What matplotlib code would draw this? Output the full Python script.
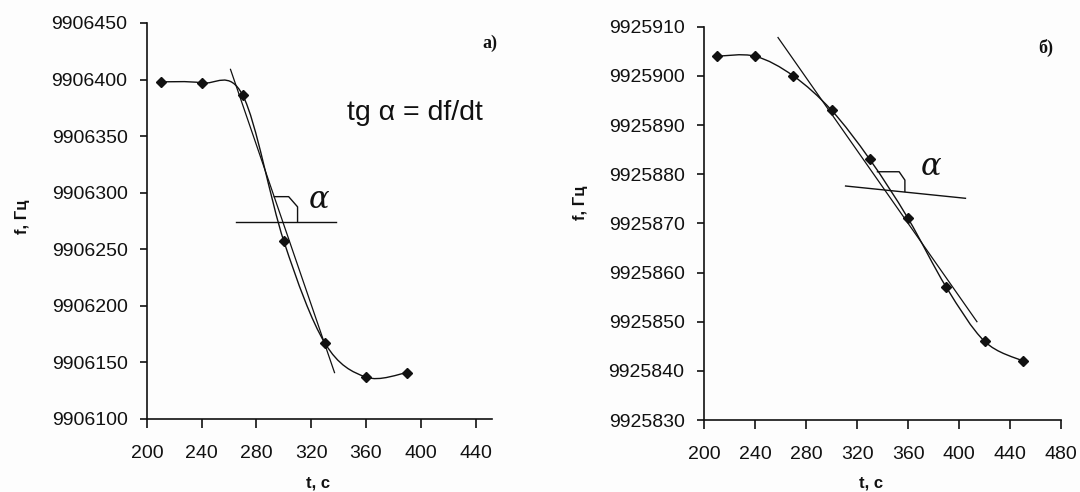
import numpy as np
import matplotlib
matplotlib.use("Agg")
import matplotlib.pyplot as plt
from matplotlib.path import Path
from matplotlib.patches import PathPatch

plt.rcParams['font.family'] = ['Liberation Sans', 'DejaVu Sans']

# ---- panel a) ----
t_a = [210, 240, 270, 300, 330, 360, 390]
f_a = [9906398, 9906397, 9906386, 9906257, 9906167, 9906137, 9906141]
tangent_a_t = [261, 337]
tangent_a_f = [9906409, 9906141]
horiz_a_t = [265, 338]
horiz_a_f = [9906274, 9906274]
yticks_a = [9906100, 9906150, 9906200, 9906250, 9906300, 9906350, 9906400, 9906450]
xticks_a = [200, 240, 280, 320, 360, 400, 440]

# ---- panel б) ----
t_b = [210, 240, 270, 300, 330, 360, 390, 420, 450]
f_b = [9925904, 9925904, 9925900, 9925893, 9925883, 9925871, 9925857, 9925846, 9925842]
tangent_b_t = [258, 414]
tangent_b_f = [9925907.8, 9925850]
horiz_b_t = [311, 405]
horiz_b_f = [9925877.6, 9925875.1]
yticks_b = [9925830, 9925840, 9925850, 9925860, 9925870, 9925880, 9925890, 9925900, 9925910]
xticks_b = [200, 240, 280, 320, 360, 400, 440, 480]


def smooth_path(x, y):
    """Piecewise cubic Bezier through the points (spreadsheet-style smoothing)."""
    x = np.asarray(x, float)
    y = np.asarray(y, float)
    n = len(x)
    verts = [(x[0], y[0])]
    codes = [Path.MOVETO]
    for i in range(n - 1):
        xp, yp = (x[i - 1], y[i - 1]) if i > 0 else (x[i], y[i])
        xn, yn = (x[i + 2], y[i + 2]) if i + 2 < n else (x[i + 1], y[i + 1])
        c1 = (x[i] + (x[i + 1] - xp) / 6, y[i] + (y[i + 1] - yp) / 6)
        c2 = (x[i + 1] - (xn - x[i]) / 6, y[i + 1] - (yn - y[i]) / 6)
        verts += [c1, c2, (x[i + 1], y[i + 1])]
        codes += [Path.CURVE4] * 3
    return Path(verts, codes)


def style_axes(ax, xticks, yticks, xlim, ylim):
    ax.set_xlim(*xlim)
    ax.set_ylim(*ylim)
    ax.set_xticks(xticks)
    ax.set_yticks(yticks)
    ax.set_yticklabels([str(v) for v in yticks])
    for s in ('top', 'right'):
        ax.spines[s].set_visible(False)
    for s in ('left', 'bottom'):
        ax.spines[s].set_linewidth(1.2)
        ax.spines[s].set_color('#111111')
    ax.tick_params(axis='both', direction='out', width=1.2,
                   labelsize=14, colors='#111111')
    ax.tick_params(axis='y', length=5, pad=9)
    ax.tick_params(axis='x', length=6.5, pad=12)
    ax.patch.set_visible(False)


fig = plt.figure(figsize=(10.8, 4.92), dpi=100)
fig.patch.set_facecolor('#fdfdfd')

ax_a = fig.add_axes([0.1361, 0.1484, 0.3194, 0.8049])
ax_b = fig.add_axes([0.6519, 0.1463, 0.3306, 0.7994])

for ax, t, f in ((ax_a, t_a, f_a), (ax_b, t_b, f_b)):
    ax.add_patch(PathPatch(smooth_path(t, f), facecolor='none',
                           edgecolor='#111111', lw=1.0))
    ax.plot(t, f, linestyle='none', marker='D', markersize=5,
            color='#111111')

# tangent and reference lines
ax_a.plot(tangent_a_t, tangent_a_f, color='#111111', lw=0.9)
ax_a.plot(horiz_a_t, horiz_a_f, color='#111111', lw=1.0)
ax_b.plot(tangent_b_t, tangent_b_f, color='#111111', lw=0.9)
ax_b.plot(horiz_b_t, horiz_b_f, color='#111111', lw=1.0)

style_axes(ax_a, xticks_a, yticks_a, (200, 452), (9906100, 9906450))
style_axes(ax_b, xticks_b, yticks_b, (200, 480), (9925830, 9925910))

# angle marks
ax_a.plot([293, 303.5, 310, 310], [9906296.5, 9906296.5, 9906287.5, 9906274],
          color='#111111', lw=1.0)
ax_a.text(326, 9906294, 'α', fontsize=22, family='DejaVu Serif',
          style='italic', ha='center', va='center', color='#111111')
ax_b.plot([336, 353, 357.5, 357.5], [9925880.5, 9925880.5, 9925878.8, 9925876.5],
          color='#111111', lw=1.0)
ax_b.text(378, 9925881.5, 'α', fontsize=22, family='DejaVu Serif',
          style='italic', ha='center', va='center', color='#111111')

ax_a.text(396, 9906370, 'tg α = df/dt', fontsize=20.5, ha='center',
          va='center', color='#111111')

fig.text(490 / 1080, 1 - 43 / 492, 'а)', fontsize=13, fontweight='bold',
         family='Liberation Serif', ha='center', va='center', color='#111111')
fig.text(1046 / 1080, 1 - 48 / 492, 'б)', fontsize=13, fontweight='bold',
         family='Liberation Serif', ha='center', va='center', color='#111111')

fig.text(23 / 1080, 1 - 217 / 492, 'f, Гц', rotation=90, fontsize=12,
         fontweight='bold', ha='center', va='center', color='#111111')
fig.text(580 / 1080, 1 - 203 / 492, 'f, Гц', rotation=90, fontsize=12,
         fontweight='bold', ha='center', va='center', color='#111111')
fig.text(318 / 1080, 1 - 483 / 492, 't, c', fontsize=12,
         fontweight='bold', ha='center', va='center', color='#111111')
fig.text(871 / 1080, 1 - 483 / 492, 't, c', fontsize=12,
         fontweight='bold', ha='center', va='center', color='#111111')

fig.savefig('out.png', dpi=100, facecolor=fig.get_facecolor())
